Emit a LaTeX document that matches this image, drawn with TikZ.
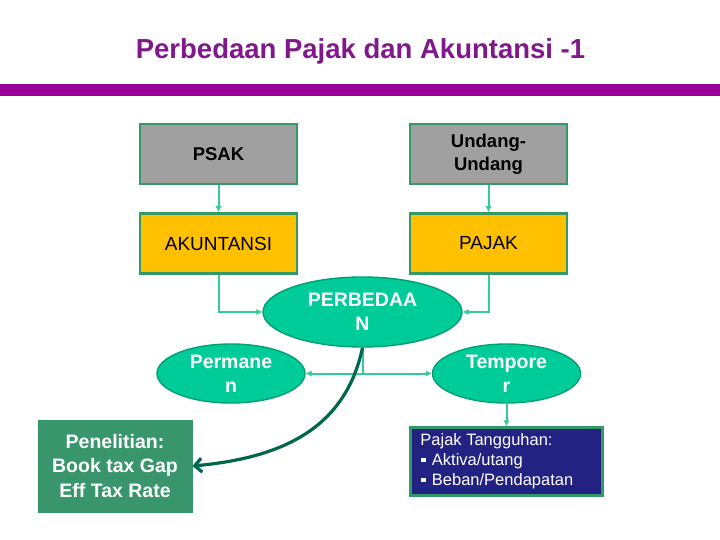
\documentclass[tikz,border=0pt]{standalone}
\usepackage{fontspec}
\setmainfont{Liberation Sans}
\usetikzlibrary{shapes.geometric,arrows.meta}
\definecolor{titlec}{RGB}{128,24,140}
\definecolor{barc}{RGB}{153,0,153}
\definecolor{grayf}{RGB}{160,160,160}
\definecolor{boxb}{RGB}{51,153,102}
\definecolor{goldf}{RGB}{255,192,0}
\definecolor{tealf}{RGB}{0,204,153}
\definecolor{tealb}{RGB}{0,160,115}
\definecolor{conc}{RGB}{51,204,153}
\definecolor{darkc}{RGB}{0,102,76}
\definecolor{penf}{RGB}{57,150,108}
\definecolor{navyf}{RGB}{34,34,130}
\tikzset{
  topbox/.style={draw=boxb, line width=2.8pt, minimum width=157pt, minimum height=60pt, inner sep=0pt, align=center, font=\fontsize{19}{21}\selectfont},
  oval/.style={ellipse, draw=tealb, fill=tealf, line width=1.4pt, inner sep=0pt, align=center, text=white, font=\bfseries\fontsize{19.5}{24}\selectfont},
  con/.style={draw=conc, line width=2pt, -{Latex[length=6pt,width=6.5pt]}},
}
\begin{document}
\begin{tikzpicture}[x=1pt,y=-1pt]
\useasboundingbox (0,0) rectangle (720,540);
\fill[white] (0,0) rectangle (720,540);
\node[text=titlec, font=\bfseries\fontsize{27.5}{30}\selectfont] (title) at (360.5,51) {Perbedaan Pajak dan Akuntansi -1};
\fill[barc] (0,84) rectangle (720,96);
\node[topbox, fill=grayf, font=\bfseries\fontsize{18.5}{23}\selectfont] (psak) at (218.5,154) {PSAK};
\node[topbox, fill=grayf, font=\bfseries\fontsize{18.5}{23}\selectfont] (uu) at (488.5,154) {Undang-\\Undang};
\node[topbox, fill=goldf] (aku) at (218.5,243.5) {AKUNTANSI};
\node[topbox, fill=goldf] (pajak) at (488.5,243.5) {PAJAK};
\node[oval, minimum width=199pt, minimum height=70pt] (perb) at (362.5,312) {PERBEDAA\\N};
\node[oval, minimum width=148pt, minimum height=59pt] (perm) at (231,373.5) {Permane\\n};
\node[oval, minimum width=148pt, minimum height=59pt] (temp) at (506.5,373.5) {Tempore\\r};
\node[draw=boxb, fill=penf, line width=2pt, minimum width=153pt, minimum height=91pt, inner sep=0pt, align=center, text=white, font=\bfseries\fontsize{19.5}{24.5}\selectfont] (pen) at (115,466) {Penelitian:\\Book tax Gap\\Eff Tax Rate};
\node[draw=boxb, fill=navyf, line width=2.4pt, minimum width=192pt, minimum height=68pt, inner sep=0pt, align=left, text=white, font=\fontsize{16.5}{20}\selectfont] (pt) at (506.5,461.5) {Pajak Tangguhan:\hspace*{40pt}\\\hspace*{1pt}\rule[3.5pt]{4.5pt}{4.5pt}\hspace{6pt}Aktiva/utang\\\hspace*{1pt}\rule[3.5pt]{4.5pt}{4.5pt}\hspace{6pt}Beban/Pendapatan};
\draw[con] (psak.south) -- (aku.north);
\draw[con] (uu.south) -- (pajak.north);
\draw[con] (aku.south) |- (perb.west);
\draw[con] (pajak.south) |- (perb.east);
\draw[draw=conc, line width=2pt] (perb.south) -- (perb.south |- perm.east);
\draw[con, {Latex[length=6pt,width=6.5pt]}-{Latex[length=6pt,width=6.5pt]}] (perm.east) -- (temp.west);
\draw[con] (temp.south) -- (pt.north);
\draw[darkc, line width=3.2pt, -{Straight Barb[length=7pt,width=14pt]}] (perb.south) .. controls (345,430) and (280,458) .. (pen.east);
\end{tikzpicture}
\end{document}
